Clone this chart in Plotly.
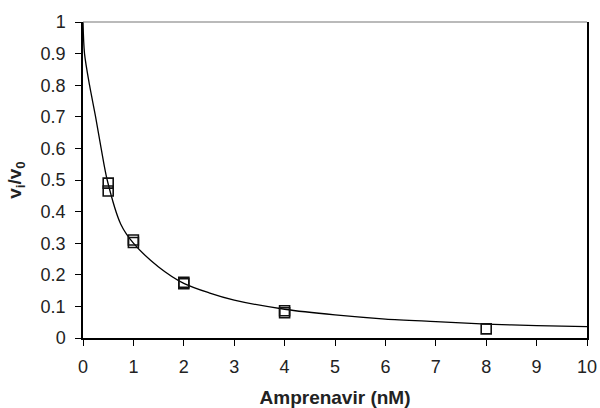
import plotly.graph_objects as go

# Measured data (open squares)
conc_nM = [0.5, 0.5, 1, 1, 2, 2, 4, 4, 8]
vi_v0 = [0.49, 0.465, 0.31, 0.302, 0.176, 0.172, 0.086, 0.080, 0.029]

# Fitted curve
fit_x = [0, 0.03, 0.13, 0.25, 0.36, 0.48, 0.75, 1.0, 1.5, 2.0, 2.5, 3.0, 4, 5, 6, 7, 8, 9, 10]
fit_y = [1.0, 0.9, 0.8, 0.7, 0.6, 0.5, 0.36, 0.30, 0.225, 0.173, 0.143, 0.12, 0.091, 0.073, 0.06, 0.052, 0.044, 0.039, 0.036]

x_ticks = list(range(0, 11))
y_ticks = [0, 0.1, 0.2, 0.3, 0.4, 0.5, 0.6, 0.7, 0.8, 0.9, 1]
y_labels = ["0", "0.1", "0.2", "0.3", "0.4", "0.5", "0.6", "0.7", "0.8", "0.9", "1"]

fig = go.Figure()
fig.add_trace(go.Scatter(x=fit_x, y=fit_y, mode="lines", line=dict(color="black", width=1.3, shape="spline", smoothing=0.8),
                         hoverinfo="skip", showlegend=False))
fig.add_trace(go.Scatter(x=conc_nM, y=vi_v0, mode="markers",
                         marker=dict(symbol="square-open", size=10, color="#111", line=dict(width=1.6, color="#111")),
                         showlegend=False, cliponaxis=False))

font_family = "Liberation Sans, Arial, sans-serif"
fig.update_layout(
    width=600, height=408,
    margin=dict(l=83, r=13, t=22, b=70),
    paper_bgcolor="white", plot_bgcolor="white",
    font=dict(family=font_family, size=18, color="#222"),
    xaxis=dict(range=[0, 10], tickvals=x_ticks, ticks="outside", ticklen=6, tickwidth=1.2, tickcolor="black",
               showline=True, linecolor="black", linewidth=1.5, showgrid=False, zeroline=False,
               ticklabelstandoff=6, automargin=False,
               title=dict(text="<b>Amprenavir (nM)</b>", font=dict(size=19, color="#222"), standoff=14)),
    yaxis=dict(range=[0, 1], tickvals=y_ticks, ticktext=y_labels, ticks="outside", ticklen=6, tickwidth=1.2, tickcolor="black",
               showline=True, linecolor="black", linewidth=1.5, mirror=True, showgrid=False, zeroline=False,
               ticklabelstandoff=6, automargin=False,
               title=dict(text="<b>v<sub>i</sub>/v<sub>0</sub></b>", font=dict(size=19, color="#222"), standoff=14)),
    shapes=[dict(type="line", xref="paper", yref="paper", x0=0, x1=1, y0=1, y1=1,
                 line=dict(color="#777", width=1.2))],
)

fig.write_html("out.html", config={"displayModeBar": False},
               post_script="document.body.style.margin='0';document.body.style.overflow='hidden';")
